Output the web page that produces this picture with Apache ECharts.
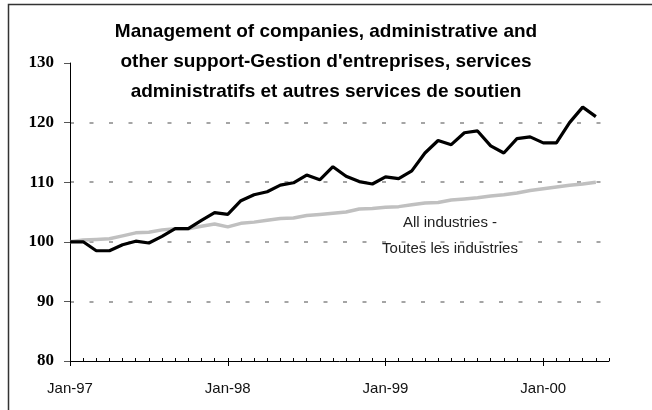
<!DOCTYPE html>
<html>
<head>
<meta charset="utf-8">
<script src="https://cdn.jsdelivr.net/npm/echarts@6/dist/echarts.min.js"></script>
<style>
  html, body { margin: 0; padding: 0; background: #fff; }
  #chart { width: 652px; height: 410px; }
</style>
</head>
<body>
<div id="chart"></div>
<script>
  // months Jan-97 .. Jun-00 (axis runs one month past the last point)
  const months = ['Jan', 'Feb', 'Mar', 'Apr', 'May', 'Jun', 'Jul', 'Aug', 'Sep', 'Oct', 'Nov', 'Dec'];
  const categories = [];
  for (let y = 97; y <= 100; y++) {
    for (let m = 0; m < 12; m++) {
      if (y === 100 && m > 5) break;
      categories.push(months[m] + '-' + String(y % 100).padStart(2, '0'));
    }
  }

  // Management of companies ... (black)
  const management = [
    100.0, 100.0, 98.5, 98.5, 99.5, 100.1, 99.8, 100.9, 102.2, 102.2, 103.6, 104.9,
    104.6, 106.9, 107.9, 108.4, 109.5, 109.9, 111.2, 110.4, 112.6, 111.0, 110.1, 109.7,
    110.9, 110.6, 111.9, 114.9, 117.0, 116.3, 118.3, 118.6, 116.1, 114.9, 117.3, 117.6,
    116.6, 116.6, 120.0, 122.6, 121.0
  ];
  // All industries (grey)
  const allIndustries = [
    100.0, 100.3, 100.4, 100.5, 101.0, 101.5, 101.6, 102.0, 102.2, 102.2, 102.6, 103.0,
    102.5, 103.1, 103.3, 103.6, 103.9, 104.0, 104.4, 104.6, 104.8, 105.0, 105.5, 105.6,
    105.8, 105.9, 106.2, 106.5, 106.6, 107.0, 107.2, 107.4, 107.7, 107.9, 108.2, 108.6,
    108.9, 109.2, 109.5, 109.7, 110.0
  ];

  const titleText = 'Management of companies, administrative and\nother support-Gestion d\'entreprises, services\nadministratifs et autres services de soutien';
  const noteLines = ['All industries -', 'Toutes les industries'];

  const chart = echarts.init(document.getElementById('chart'));
  chart.setOption({
    animation: false,
    backgroundColor: '#fff',
    title: {
      text: titleText,
      left: 'center',
      top: 12,
      textStyle: {
        fontFamily: '"Liberation Sans", Arial, sans-serif',
        fontWeight: 'bold',
        fontSize: 19,
        lineHeight: 30,
        color: '#000'
      }
    },
    grid: { left: 70, right: 43, top: 63, bottom: 49 },
    xAxis: [
      {
        type: 'category',
        data: categories,
        boundaryGap: false,
        axisLine: { lineStyle: { color: '#000', width: 1 } },
        axisTick: { inside: true, length: 3, interval: 0, lineStyle: { color: '#000' } },
        axisLabel: { show: false },
        splitLine: { show: false }
      },
      {
        type: 'category',
        data: categories,
        position: 'bottom',
        boundaryGap: false,
        axisLine: { show: false },
        axisTick: { length: 5, interval: 11, lineStyle: { color: '#000' } },
        axisLabel: {
          interval: 11,
          margin: 20,
          fontFamily: '"Liberation Sans", Arial, sans-serif',
          fontSize: 15,
          color: '#111'
        },
        splitLine: { show: false }
      }
    ],
    yAxis: {
      type: 'value',
      min: 80,
      max: 130,
      interval: 10,
      axisLine: { show: true, lineStyle: { color: '#000', width: 1 } },
      axisTick: { show: true, length: 6, lineStyle: { color: '#555' } },
      axisLabel: {
        margin: 16,
        fontFamily: '"Liberation Serif", "Times New Roman", serif',
        fontWeight: 'bold',
        fontSize: 17,
        color: '#000'
      },
      splitLine: {
        show: true,
        showMinLine: false,
        showMaxLine: false,
        lineStyle: { color: '#888', width: 1.5, type: [4, 15.5] }
      }
    },
    graphic: [
      {
        type: 'rect',
        shape: { x: 8.5, y: 4.5, width: 700, height: 450 },
        style: { fill: null, stroke: '#333', lineWidth: 1.5 },
        silent: true,
        z: 100
      },
      {
        type: 'text',
        x: 450,
        y: 236,
        style: {
          text: noteLines.join('\n'),
          align: 'center',
          verticalAlign: 'middle',
          fontFamily: '"Liberation Sans", Arial, sans-serif',
          fontSize: 15,
          lineHeight: 26,
          fill: '#222'
        },
        z: 100
      }
    ],
    series: [
      {
        name: 'All industries',
        type: 'line',
        data: allIndustries,
        symbol: 'none',
        lineStyle: { color: '#c0c0c0', width: 3.5 }
      },
      {
        name: 'Management',
        type: 'line',
        data: management,
        symbol: 'none',
        lineStyle: { color: '#000', width: 3.2 }
      }
    ]
  });
</script>
</body>
</html>
